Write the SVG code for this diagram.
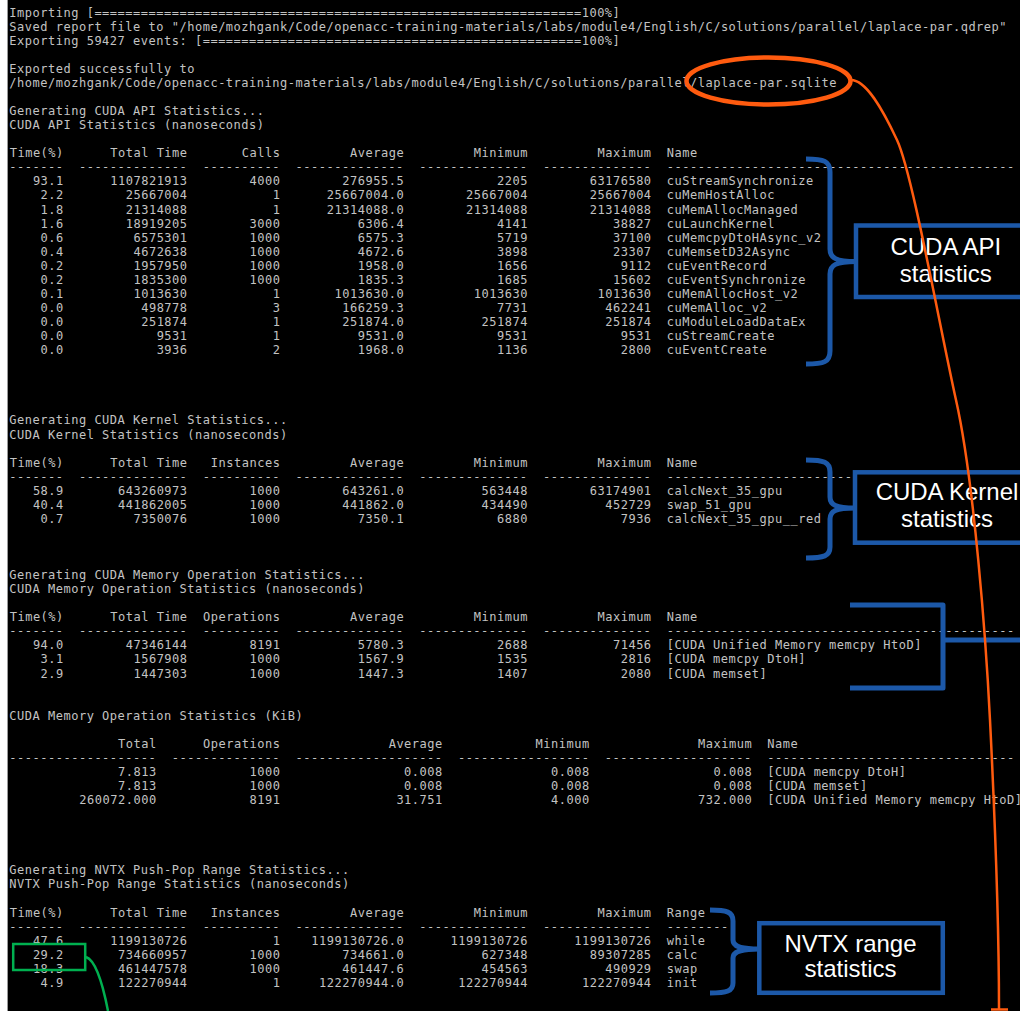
<svg xmlns="http://www.w3.org/2000/svg" width="1020" height="1011" viewBox="0 0 1020 1011">
<style>
.t{font-family:"DejaVu Sans Mono","Liberation Mono",monospace;font-size:12px;letter-spacing:0.51px;fill:#c3c3c3;white-space:pre}
.e{text-anchor:end}
.lbl{font-family:"Liberation Sans",Arial,sans-serif;font-size:24px;fill:#ffffff;text-anchor:middle}
.brace{fill:none;stroke:#1c58a8;stroke-width:5;stroke-linejoin:round}
.box{fill:#000000;stroke:#1c58a8;stroke-width:4.5}
.or{fill:none;stroke:#ff5b0f;stroke-width:2.5}
.gr{fill:none;stroke:#00b050;stroke-width:2.5}
</style>
<rect x="0" y="0" width="1020" height="1011" fill="#000000"/>
<rect x="0" y="0" width="7" height="1011" fill="#ffffff"/>
<line x1="7.5" y1="0" x2="7.5" y2="1011" stroke="#9a9a9a" stroke-width="1"/>

<g id="terminal">
<text class="t" xml:space="preserve" x="9.3" y="16.7">Importing [===============================================================100%]</text>
<text class="t" xml:space="preserve" x="9.3" y="30.76">Saved report file to "/home/mozhgank/Code/openacc-training-materials/labs/module4/English/C/solutions/parallel/laplace-par.qdrep"</text>
<text class="t" xml:space="preserve" x="9.3" y="44.82">Exporting 59427 events: [=================================================100%]</text>
<text class="t" xml:space="preserve" x="9.3" y="72.94">Exported successfully to</text>
<text class="t" xml:space="preserve" x="9.3" y="87">/home/mozhgank/Code/openacc-training-materials/labs/module4/English/C/solutions/parallel/laplace-par.sqlite</text>
<text class="t" xml:space="preserve" x="9.3" y="115.12">Generating CUDA API Statistics...</text>
<text class="t" xml:space="preserve" x="9.3" y="129.18">CUDA API Statistics (nanoseconds)</text>

<!-- API table -->
<text class="t" xml:space="preserve" x="9.3" y="171.36">-------  --------------  ----------  --------------  --------------  --------------  ---------------------------------------------</text>
<text class="t e"><tspan x="63.84" y="157.3">Time(%)</tspan><tspan x="63.84" y="185.42">93.1</tspan><tspan x="63.84" dy="14.06">2.2</tspan><tspan x="63.84" dy="14.06">1.8</tspan><tspan x="63.84" dy="14.06">1.6</tspan><tspan x="63.84" dy="14.06">0.6</tspan><tspan x="63.84" dy="14.06">0.4</tspan><tspan x="63.84" dy="14.06">0.2</tspan><tspan x="63.84" dy="14.06">0.2</tspan><tspan x="63.84" dy="14.06">0.1</tspan><tspan x="63.84" dy="14.06">0.0</tspan><tspan x="63.84" dy="14.06">0.0</tspan><tspan x="63.84" dy="14.06">0.0</tspan><tspan x="63.84" dy="14.06">0.0</tspan></text>
<text class="t e"><tspan x="187.58" y="157.3">Total Time</tspan><tspan x="187.58" y="185.42">1107821913</tspan><tspan x="187.58" dy="14.06">25667004</tspan><tspan x="187.58" dy="14.06">21314088</tspan><tspan x="187.58" dy="14.06">18919205</tspan><tspan x="187.58" dy="14.06">6575301</tspan><tspan x="187.58" dy="14.06">4672638</tspan><tspan x="187.58" dy="14.06">1957950</tspan><tspan x="187.58" dy="14.06">1835300</tspan><tspan x="187.58" dy="14.06">1013630</tspan><tspan x="187.58" dy="14.06">498778</tspan><tspan x="187.58" dy="14.06">251874</tspan><tspan x="187.58" dy="14.06">9531</tspan><tspan x="187.58" dy="14.06">3936</tspan></text>
<text class="t e"><tspan x="280.39" y="157.3">Calls</tspan><tspan x="280.39" y="185.42">4000</tspan><tspan x="280.39" dy="14.06">1</tspan><tspan x="280.39" dy="14.06">1</tspan><tspan x="280.39" dy="14.06">3000</tspan><tspan x="280.39" dy="14.06">1000</tspan><tspan x="280.39" dy="14.06">1000</tspan><tspan x="280.39" dy="14.06">1000</tspan><tspan x="280.39" dy="14.06">1000</tspan><tspan x="280.39" dy="14.06">1</tspan><tspan x="280.39" dy="14.06">3</tspan><tspan x="280.39" dy="14.06">1</tspan><tspan x="280.39" dy="14.06">1</tspan><tspan x="280.39" dy="14.06">2</tspan></text>
<text class="t e"><tspan x="404.13" y="157.3">Average</tspan><tspan x="404.13" y="185.42">276955.5</tspan><tspan x="404.13" dy="14.06">25667004.0</tspan><tspan x="404.13" dy="14.06">21314088.0</tspan><tspan x="404.13" dy="14.06">6306.4</tspan><tspan x="404.13" dy="14.06">6575.3</tspan><tspan x="404.13" dy="14.06">4672.6</tspan><tspan x="404.13" dy="14.06">1958.0</tspan><tspan x="404.13" dy="14.06">1835.3</tspan><tspan x="404.13" dy="14.06">1013630.0</tspan><tspan x="404.13" dy="14.06">166259.3</tspan><tspan x="404.13" dy="14.06">251874.0</tspan><tspan x="404.13" dy="14.06">9531.0</tspan><tspan x="404.13" dy="14.06">1968.0</tspan></text>
<text class="t e"><tspan x="527.88" y="157.3">Minimum</tspan><tspan x="527.88" y="185.42">2205</tspan><tspan x="527.88" dy="14.06">25667004</tspan><tspan x="527.88" dy="14.06">21314088</tspan><tspan x="527.88" dy="14.06">4141</tspan><tspan x="527.88" dy="14.06">5719</tspan><tspan x="527.88" dy="14.06">3898</tspan><tspan x="527.88" dy="14.06">1656</tspan><tspan x="527.88" dy="14.06">1685</tspan><tspan x="527.88" dy="14.06">1013630</tspan><tspan x="527.88" dy="14.06">7731</tspan><tspan x="527.88" dy="14.06">251874</tspan><tspan x="527.88" dy="14.06">9531</tspan><tspan x="527.88" dy="14.06">1136</tspan></text>
<text class="t e"><tspan x="651.62" y="157.3">Maximum</tspan><tspan x="651.62" y="185.42">63176580</tspan><tspan x="651.62" dy="14.06">25667004</tspan><tspan x="651.62" dy="14.06">21314088</tspan><tspan x="651.62" dy="14.06">38827</tspan><tspan x="651.62" dy="14.06">37100</tspan><tspan x="651.62" dy="14.06">23307</tspan><tspan x="651.62" dy="14.06">9112</tspan><tspan x="651.62" dy="14.06">15602</tspan><tspan x="651.62" dy="14.06">1013630</tspan><tspan x="651.62" dy="14.06">462241</tspan><tspan x="651.62" dy="14.06">251874</tspan><tspan x="651.62" dy="14.06">9531</tspan><tspan x="651.62" dy="14.06">2800</tspan></text>
<text class="t"><tspan x="666.69" y="157.3">Name</tspan><tspan x="666.69" y="185.42">cuStreamSynchronize</tspan><tspan x="666.69" dy="14.06">cuMemHostAlloc</tspan><tspan x="666.69" dy="14.06">cuMemAllocManaged</tspan><tspan x="666.69" dy="14.06">cuLaunchKernel</tspan><tspan x="666.69" dy="14.06">cuMemcpyDtoHAsync_v2</tspan><tspan x="666.69" dy="14.06">cuMemsetD32Async</tspan><tspan x="666.69" dy="14.06">cuEventRecord</tspan><tspan x="666.69" dy="14.06">cuEventSynchronize</tspan><tspan x="666.69" dy="14.06">cuMemAllocHost_v2</tspan><tspan x="666.69" dy="14.06">cuMemAlloc_v2</tspan><tspan x="666.69" dy="14.06">cuModuleLoadDataEx</tspan><tspan x="666.69" dy="14.06">cuStreamCreate</tspan><tspan x="666.69" dy="14.06">cuEventCreate</tspan></text>

<!-- Kernel table -->
<text class="t" xml:space="preserve" x="9.3" y="424.44">Generating CUDA Kernel Statistics...</text>
<text class="t" xml:space="preserve" x="9.3" y="438.5">CUDA Kernel Statistics (nanoseconds)</text>
<text class="t" xml:space="preserve" x="9.3" y="480.68">-------  --------------  ----------  --------------  --------------  --------------  ------------------------</text>
<text class="t e"><tspan x="63.84" y="466.62">Time(%)</tspan><tspan x="63.84" y="494.74">58.9</tspan><tspan x="63.84" dy="14.06">40.4</tspan><tspan x="63.84" dy="14.06">0.7</tspan></text>
<text class="t e"><tspan x="187.58" y="466.62">Total Time</tspan><tspan x="187.58" y="494.74">643260973</tspan><tspan x="187.58" dy="14.06">441862005</tspan><tspan x="187.58" dy="14.06">7350076</tspan></text>
<text class="t e"><tspan x="280.39" y="466.62">Instances</tspan><tspan x="280.39" y="494.74">1000</tspan><tspan x="280.39" dy="14.06">1000</tspan><tspan x="280.39" dy="14.06">1000</tspan></text>
<text class="t e"><tspan x="404.13" y="466.62">Average</tspan><tspan x="404.13" y="494.74">643261.0</tspan><tspan x="404.13" dy="14.06">441862.0</tspan><tspan x="404.13" dy="14.06">7350.1</tspan></text>
<text class="t e"><tspan x="527.88" y="466.62">Minimum</tspan><tspan x="527.88" y="494.74">563448</tspan><tspan x="527.88" dy="14.06">434490</tspan><tspan x="527.88" dy="14.06">6880</tspan></text>
<text class="t e"><tspan x="651.62" y="466.62">Maximum</tspan><tspan x="651.62" y="494.74">63174901</tspan><tspan x="651.62" dy="14.06">452729</tspan><tspan x="651.62" dy="14.06">7936</tspan></text>
<text class="t"><tspan x="666.69" y="466.62">Name</tspan><tspan x="666.69" y="494.74">calcNext_35_gpu</tspan><tspan x="666.69" dy="14.06">swap_51_gpu</tspan><tspan x="666.69" dy="14.06">calcNext_35_gpu__red</tspan></text>

<!-- Memory ops (ns) -->
<text class="t" xml:space="preserve" x="9.3" y="579.1">Generating CUDA Memory Operation Statistics...</text>
<text class="t" xml:space="preserve" x="9.3" y="593.16">CUDA Memory Operation Statistics (nanoseconds)</text>
<text class="t" xml:space="preserve" x="9.3" y="635.34">-------  --------------  ----------  --------------  --------------  --------------  ---------------------------------------------</text>
<text class="t e"><tspan x="63.84" y="621.28">Time(%)</tspan><tspan x="63.84" y="649.4">94.0</tspan><tspan x="63.84" dy="14.06">3.1</tspan><tspan x="63.84" dy="14.06">2.9</tspan></text>
<text class="t e"><tspan x="187.58" y="621.28">Total Time</tspan><tspan x="187.58" y="649.4">47346144</tspan><tspan x="187.58" dy="14.06">1567908</tspan><tspan x="187.58" dy="14.06">1447303</tspan></text>
<text class="t e"><tspan x="280.39" y="621.28">Operations</tspan><tspan x="280.39" y="649.4">8191</tspan><tspan x="280.39" dy="14.06">1000</tspan><tspan x="280.39" dy="14.06">1000</tspan></text>
<text class="t e"><tspan x="404.13" y="621.28">Average</tspan><tspan x="404.13" y="649.4">5780.3</tspan><tspan x="404.13" dy="14.06">1567.9</tspan><tspan x="404.13" dy="14.06">1447.3</tspan></text>
<text class="t e"><tspan x="527.88" y="621.28">Minimum</tspan><tspan x="527.88" y="649.4">2688</tspan><tspan x="527.88" dy="14.06">1535</tspan><tspan x="527.88" dy="14.06">1407</tspan></text>
<text class="t e"><tspan x="651.62" y="621.28">Maximum</tspan><tspan x="651.62" y="649.4">71456</tspan><tspan x="651.62" dy="14.06">2816</tspan><tspan x="651.62" dy="14.06">2080</tspan></text>
<text class="t" xml:space="preserve"><tspan x="666.69" y="621.28">Name</tspan><tspan x="666.69" y="649.4">[CUDA Unified Memory memcpy HtoD]</tspan><tspan x="666.69" y="663.46">[CUDA memcpy DtoH]</tspan><tspan x="666.69" y="677.52">[CUDA memset]</tspan></text>

<!-- Memory ops (KiB) -->
<text class="t" xml:space="preserve" x="9.3" y="719.7">CUDA Memory Operation Statistics (KiB)</text>
<text class="t" xml:space="preserve" x="9.3" y="761.88">-------------------  --------------  -------------------  -----------------  -------------------  --------------------------------</text>
<text class="t e"><tspan x="156.65" y="747.82">Total</tspan><tspan x="156.65" y="775.94">7.813</tspan><tspan x="156.65" dy="14.06">7.813</tspan><tspan x="156.65" dy="14.06">260072.000</tspan></text>
<text class="t e"><tspan x="280.39" y="747.82">Operations</tspan><tspan x="280.39" y="775.94">1000</tspan><tspan x="280.39" dy="14.06">1000</tspan><tspan x="280.39" dy="14.06">8191</tspan></text>
<text class="t e"><tspan x="442.8" y="747.82">Average</tspan><tspan x="442.8" y="775.94">0.008</tspan><tspan x="442.8" dy="14.06">0.008</tspan><tspan x="442.8" dy="14.06">31.751</tspan></text>
<text class="t e"><tspan x="589.75" y="747.82">Minimum</tspan><tspan x="589.75" y="775.94">0.008</tspan><tspan x="589.75" dy="14.06">0.008</tspan><tspan x="589.75" dy="14.06">4.000</tspan></text>
<text class="t e"><tspan x="752.16" y="747.82">Maximum</tspan><tspan x="752.16" y="775.94">0.008</tspan><tspan x="752.16" dy="14.06">0.008</tspan><tspan x="752.16" dy="14.06">732.000</tspan></text>
<text class="t" xml:space="preserve"><tspan x="767.23" y="747.82">Name</tspan><tspan x="767.23" y="775.94">[CUDA memcpy DtoH]</tspan><tspan x="767.23" y="790">[CUDA memset]</tspan><tspan x="767.23" y="804.06">[CUDA Unified Memory memcpy HtoD]</tspan></text>

<!-- NVTX -->
<text class="t" xml:space="preserve" x="9.3" y="874.36">Generating NVTX Push-Pop Range Statistics...</text>
<text class="t" xml:space="preserve" x="9.3" y="888.42">NVTX Push-Pop Range Statistics (nanoseconds)</text>
<text class="t" xml:space="preserve" x="9.3" y="930.6">-------  --------------  ----------  --------------  --------------  --------------  --------</text>
<text class="t e"><tspan x="63.84" y="916.54">Time(%)</tspan><tspan x="63.84" y="944.66">47.6</tspan><tspan x="63.84" dy="14.06">29.2</tspan><tspan x="63.84" dy="14.06">18.3</tspan><tspan x="63.84" dy="14.06">4.9</tspan></text>
<text class="t e"><tspan x="187.58" y="916.54">Total Time</tspan><tspan x="187.58" y="944.66">1199130726</tspan><tspan x="187.58" dy="14.06">734660957</tspan><tspan x="187.58" dy="14.06">461447578</tspan><tspan x="187.58" dy="14.06">122270944</tspan></text>
<text class="t e"><tspan x="280.39" y="916.54">Instances</tspan><tspan x="280.39" y="944.66">1</tspan><tspan x="280.39" dy="14.06">1000</tspan><tspan x="280.39" dy="14.06">1000</tspan><tspan x="280.39" dy="14.06">1</tspan></text>
<text class="t e"><tspan x="404.13" y="916.54">Average</tspan><tspan x="404.13" y="944.66">1199130726.0</tspan><tspan x="404.13" dy="14.06">734661.0</tspan><tspan x="404.13" dy="14.06">461447.6</tspan><tspan x="404.13" dy="14.06">122270944.0</tspan></text>
<text class="t e"><tspan x="527.88" y="916.54">Minimum</tspan><tspan x="527.88" y="944.66">1199130726</tspan><tspan x="527.88" dy="14.06">627348</tspan><tspan x="527.88" dy="14.06">454563</tspan><tspan x="527.88" dy="14.06">122270944</tspan></text>
<text class="t e"><tspan x="651.62" y="916.54">Maximum</tspan><tspan x="651.62" y="944.66">1199130726</tspan><tspan x="651.62" dy="14.06">89307285</tspan><tspan x="651.62" dy="14.06">490929</tspan><tspan x="651.62" dy="14.06">122270944</tspan></text>
<text class="t"><tspan x="666.69" y="916.54">Range</tspan><tspan x="666.69" y="944.66">while</tspan><tspan x="666.69" dy="14.06">calc</tspan><tspan x="666.69" dy="14.06">swap</tspan><tspan x="666.69" dy="14.06">init</tspan></text>
</g>

<g id="node-cuda-api">
<path class="brace" d="M806,159 C824,159 830,161 830,172 L830,249 C830,258 836,261.5 856,261.5 C836,261.5 830,265 830,274 L830,351 C830,362 824,364 806,364"/>
<rect class="box" x="856" y="225.5" width="200" height="71.5"/>
<text class="lbl" x="945.8" y="255">CUDA API</text>
<text class="lbl" x="945.8" y="282.3">statistics</text>
</g>

<g id="node-cuda-kernel">
<path class="brace" d="M806,460 C824,460 830,462 830,472 L830,497 C830,505 836,508 855,508 C836,508 830,511 830,519 L830,547 C830,556 824,558 806,558"/>
<rect class="box" x="855" y="472.3" width="200" height="70.4"/>
<text class="lbl" x="947" y="500">CUDA Kernel</text>
<text class="lbl" x="947" y="527.3">statistics</text>
</g>

<g id="node-memory">
<path class="brace" d="M850,605 L943,605 L943,688 L850,688 M943,640 L1025,640"/>
</g>

<g id="node-nvtx">
<path class="brace" d="M710,910 C727,910 733,912 733,921 L733,940 C733,946 739,949 759,949 C739,949 733,952 733,958 L733,983 C733,991 727,993 710,993"/>
<rect class="box" x="759.3" y="923.2" width="183.5" height="69.6"/>
<text class="lbl" x="850.5" y="952.3">NVTX range</text>
<text class="lbl" x="850.5" y="977.3">statistics</text>
</g>

<g id="node-sqlite-highlight">
<ellipse cx="768.5" cy="81" rx="82" ry="23.5" fill="none" stroke="#ff5b0f" stroke-width="4.5"/>
</g>

<g id="node-calc-highlight">
<rect class="gr" x="13.2" y="944" width="72" height="26"/>
</g>

<g id="connectors">
<path class="or" d="M851,80 C866,80 882,108 897,140 C912,172 938,318 956,400 C974,480 986,640 990,720 C994,800 999,930 999,1009"/>
<path class="or" d="M991,1009.5 L1008,1009.5"/>
<path class="gr" d="M86,957 C95,960 102,980 108,1011"/>
</g>
</svg>
